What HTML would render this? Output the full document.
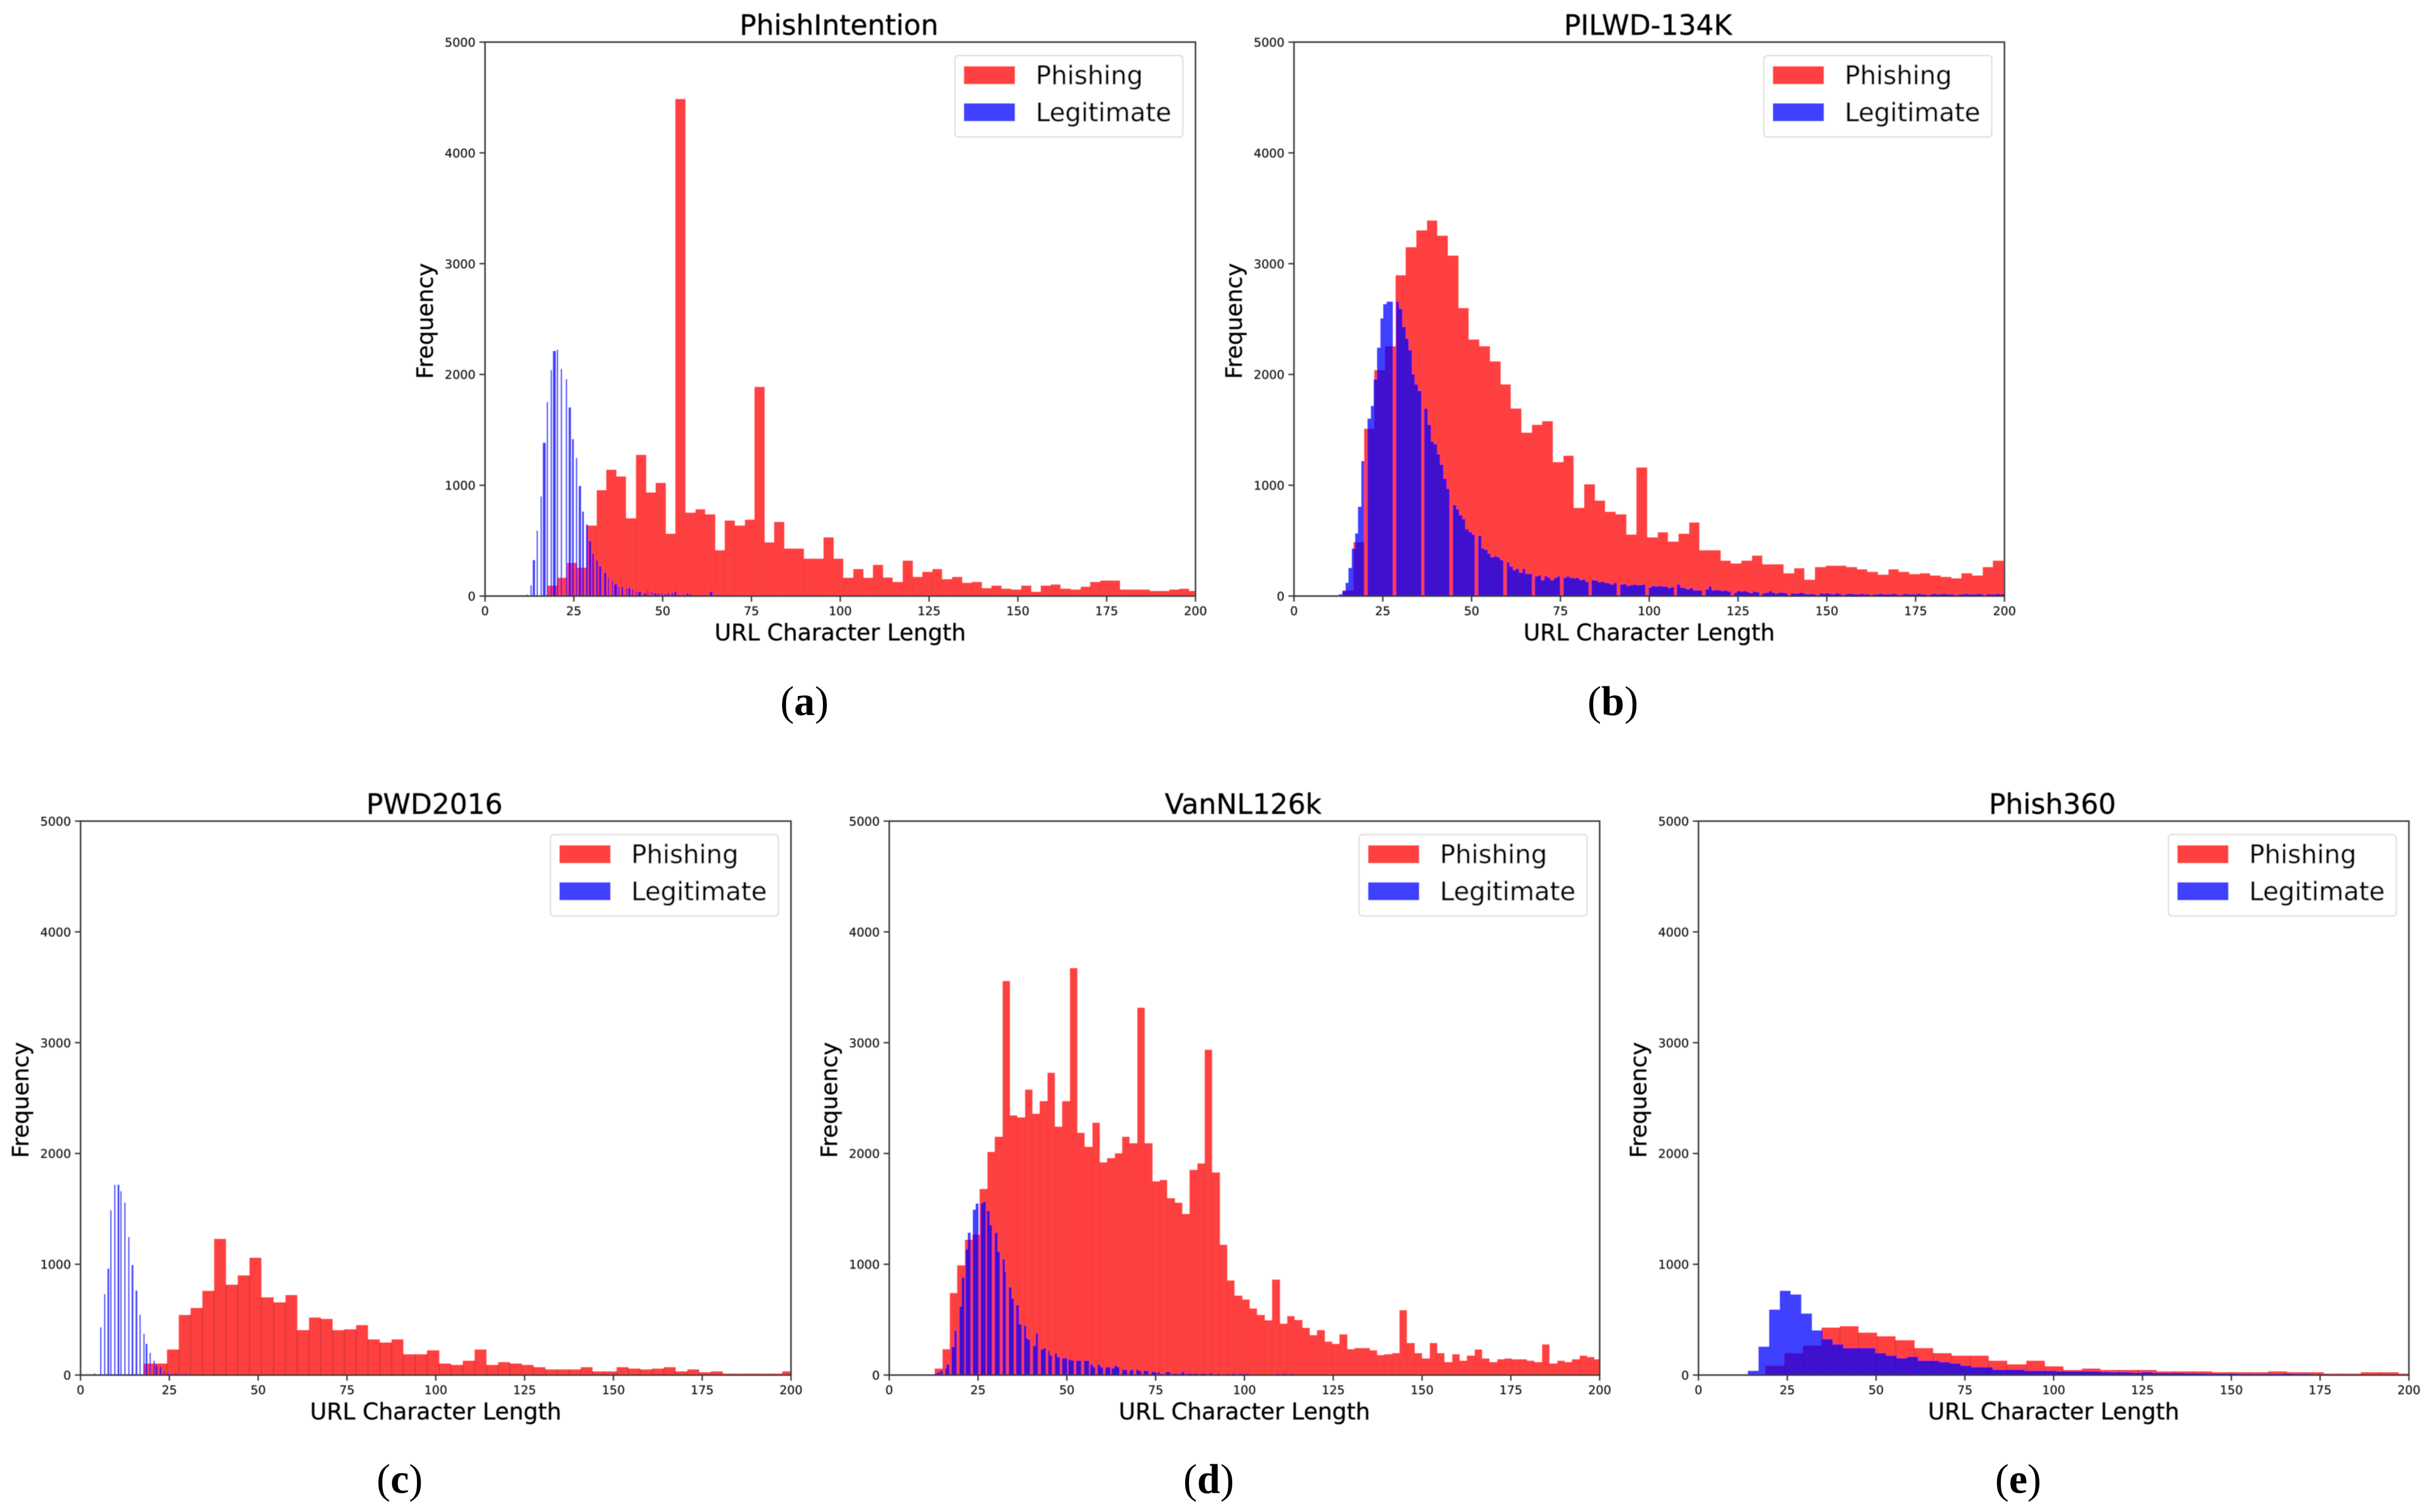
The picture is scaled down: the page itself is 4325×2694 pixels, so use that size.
<!DOCTYPE html>
<html lang="en">
<head>
<meta charset="utf-8">
<title>URL character length histograms</title>
<style>
html,body{margin:0;padding:0;background:#fff}
svg{display:block}
text{font-family:"DejaVu Sans","Liberation Sans",sans-serif;fill:#000}
.title{font-size:49.5px;text-anchor:middle;stroke:#000;stroke-width:.4px}
.xlabel{font-size:40.7px;text-anchor:middle;stroke:#000;stroke-width:.4px}
.ylabel{font-size:40px;text-anchor:middle;stroke:#000;stroke-width:.4px}
.legend-text{font-size:45.3px;stroke:#000;stroke-width:.4px}
.tick-label{font-size:21.5px;fill:#111;stroke:#111;stroke-width:.25px}
.caption{font-family:"Liberation Serif",serif;font-size:74px;text-anchor:middle}
.caption tspan{font-weight:bold}
</style>
</head>
<body>
<svg id="figure" xmlns="http://www.w3.org/2000/svg" width="4325" height="2694" viewBox="0 0 4325 2694">
<defs>
<clipPath id="plot-clip"><rect x="0" y="0" width="1265.5" height="987"></rect></clipPath>
<filter id="soft" x="-5%" y="-5%" width="110%" height="110%"><feGaussianBlur stdDeviation="0.8"></feGaussianBlur></filter>
</defs>
<rect x="0" y="0" width="4325" height="2694" fill="#fff"></rect>

<g id="panel-a" transform="translate(864,75)" filter="url(#soft)">
<g class="marks" clip-path="url(#plot-clip)"></g>
<g class="axes"></g>
<text class="title" x="630.5" y="-13">PhishIntention</text>
<text class="xlabel" x="632.7" y="1066">URL Character Length</text>
<text class="ylabel" transform="translate(-93,497) rotate(-90)">Frequency</text>
<g>
<rect x="837" y="24" width="406" height="145" rx="6" fill="#fff" stroke="#d8d8d8" stroke-width="2"></rect>
<rect x="853" y="43" width="91" height="32" fill="rgb(255,64,64)"></rect>
<text class="legend-text" x="981" y="75">Phishing</text>
<rect x="853" y="109" width="91" height="32" fill="rgb(64,64,255)"></rect>
<text class="legend-text" x="981" y="141">Legitimate</text>
</g>
</g>

<g id="panel-b" transform="translate(2305,75)" filter="url(#soft)">
<g class="marks" clip-path="url(#plot-clip)"></g>
<g class="axes"></g>
<text class="title" x="630.5" y="-13">PILWD-134K</text>
<text class="xlabel" x="632.7" y="1066">URL Character Length</text>
<text class="ylabel" transform="translate(-93,497) rotate(-90)">Frequency</text>
<g>
<rect x="837" y="24" width="406" height="145" rx="6" fill="#fff" stroke="#d8d8d8" stroke-width="2"></rect>
<rect x="853" y="43" width="91" height="32" fill="rgb(255,64,64)"></rect>
<text class="legend-text" x="981" y="75">Phishing</text>
<rect x="853" y="109" width="91" height="32" fill="rgb(64,64,255)"></rect>
<text class="legend-text" x="981" y="141">Legitimate</text>
</g>
</g>

<g id="panel-c" transform="translate(143.5,1463)" filter="url(#soft)">
<g class="marks" clip-path="url(#plot-clip)"></g>
<g class="axes"></g>
<text class="title" x="630.5" y="-13">PWD2016</text>
<text class="xlabel" x="632.7" y="1066">URL Character Length</text>
<text class="ylabel" transform="translate(-93,497) rotate(-90)">Frequency</text>
<g>
<rect x="837" y="24" width="406" height="145" rx="6" fill="#fff" stroke="#d8d8d8" stroke-width="2"></rect>
<rect x="853" y="43" width="91" height="32" fill="rgb(255,64,64)"></rect>
<text class="legend-text" x="981" y="75">Phishing</text>
<rect x="853" y="109" width="91" height="32" fill="rgb(64,64,255)"></rect>
<text class="legend-text" x="981" y="141">Legitimate</text>
</g>
</g>

<g id="panel-d" transform="translate(1584,1463)" filter="url(#soft)">
<g class="marks" clip-path="url(#plot-clip)"></g>
<g class="axes"></g>
<text class="title" x="630.5" y="-13">VanNL126k</text>
<text class="xlabel" x="632.7" y="1066">URL Character Length</text>
<text class="ylabel" transform="translate(-93,497) rotate(-90)">Frequency</text>
<g>
<rect x="837" y="24" width="406" height="145" rx="6" fill="#fff" stroke="#d8d8d8" stroke-width="2"></rect>
<rect x="853" y="43" width="91" height="32" fill="rgb(255,64,64)"></rect>
<text class="legend-text" x="981" y="75">Phishing</text>
<rect x="853" y="109" width="91" height="32" fill="rgb(64,64,255)"></rect>
<text class="legend-text" x="981" y="141">Legitimate</text>
</g>
</g>

<g id="panel-e" transform="translate(3025.5,1463)" filter="url(#soft)">
<g class="marks" clip-path="url(#plot-clip)"></g>
<g class="axes"></g>
<text class="title" x="630.5" y="-13">Phish360</text>
<text class="xlabel" x="632.7" y="1066">URL Character Length</text>
<text class="ylabel" transform="translate(-93,497) rotate(-90)">Frequency</text>
<g>
<rect x="837" y="24" width="406" height="145" rx="6" fill="#fff" stroke="#d8d8d8" stroke-width="2"></rect>
<rect x="853" y="43" width="91" height="32" fill="rgb(255,64,64)"></rect>
<text class="legend-text" x="981" y="75">Phishing</text>
<rect x="853" y="109" width="91" height="32" fill="rgb(64,64,255)"></rect>
<text class="legend-text" x="981" y="141">Legitimate</text>
</g>
</g>

<text class="caption" x="1433" y="1274">(<tspan>a</tspan>)</text>
<text class="caption" x="2873" y="1274">(<tspan>b</tspan>)</text>
<text class="caption" x="712" y="2660">(<tspan>c</tspan>)</text>
<text class="caption" x="2153" y="2660">(<tspan>d</tspan>)</text>
<text class="caption" x="3595" y="2660">(<tspan>e</tspan>)</text>
</svg>

<script>
const xTickValues = [0,25,50,75,100,125,150,175,200];
const yTickValues = [0,1000,2000,3000,4000,5000];
const xDomainMax = 200;
const yDomainMax = 5000;

/* PhishIntention */
const aPhishingStart = 17.5;
const aPhishingBinWidth = 2.78;
const aPhishingCounts = [93,164,299,256,635,955,1140,1080,702,1274,934,1022,563,4487,753,782,736,412,681,635,690,1888,484,669,429,429,336,336,530,336,164,244,164,282,168,126,320,172,219,244,151,172,118,126,71,93,67,59,93,38,93,105,67,59,84,126,139,139,59,59,59,46,46,59,67,46];
const aLegitLengths = [11.70,12.76,13.44,14.50,15.60,16.29,17.40,18.45,19.19,20.24,21.30,22.72,23.51,24.57,25.62,26.36,27.41,28.52,29.20,30.26,31.37,32.05,33.47,34.58,35.64,36.37,37.43,38.48,39.64,40.27,41.38,42.49,43.17,44.65,45.65,46.76,47.50,48.55,49.60,50.34,51.40,52.50,53.19,54.30,55.72,56.77,57.51,61.47,63.26,65.42];
const aLegitWidths = [.37,.37,.7,.37,.37,.7,.37,.37,.7,.37,.37,.37,.7,.37,.37,.7,.37,.37,.7,.37,.37,.7,.7,.37,.37,.7,.37,.37,.37,.7,.37,.37,.7,.7,.37,.37,.7,.37,.37,.7,.37,.37,.7,.37,.37,.37,.7,.37,.7,.37];
const aLegitCounts = [12,95,324,590,899,1383,1751,2039,2212,2223,2050,1957,1703,1417,1245,992,763,647,497,383,324,268,210,165,140,107,83,83,72,72,60,37,37,25,49,37,25,25,25,14,25,25,37,14,14,25,14,14,37,14];

/* PILWD-134K */
const bPhishingStart = 13.8;
const bPhishingBinWidth = 2.952;
const bPhishingCounts = [50,487,1510,2038,2255,2895,3149,3300,3390,3253,3072,2599,2314,2255,2117,1911,1691,1474,1544,1578,1209,1266,795,1009,862,761,736,555,1160,530,576,492,563,664,412,412,320,294,320,366,286,286,206,252,147,261,273,273,261,240,219,193,240,219,198,206,185,172,160,206,185,261,320];
const bLegitStart = 12.72;
const bLegitBinWidth = 0.889;
const bLegitCounts = [14,45,118,254,428,566,806,1218,0,1601,1714,1956,2241,2506,2635,2658,2658,0,2658,2590,2429,2323,2219,2001,1911,1852,0,1691,1544,1392,1370,1279,1186,1060,967,0,820,783,729,693,602,577,555,0,543,430,417,383,349,360,349,324,0,303,267,233,245,210,245,199,199,0,177,188,143,177,165,143,165,177,0,165,177,165,160,165,145,150,130,0,145,140,125,130,120,115,105,120,0,105,110,90,100,105,100,100,105,0,75,90,85,90,85,85,70,80,0,105,75,70,60,70,50,50,50,0,60,85,50,55,50,45,50,40,0,30,45,40,45,35,25,40,35,0,25,30,45,30,20,30,30,25,0,25,20,25,30,20,15,20,15,0,25,20,25,20,15,25,20,0,15,20,20,15,15,20,15,15,0,15,15,20,15,15,15,20,15,0,15,20,15,15,15,20,15,15,0,15,20,15,15,20,15,15,15,0,15,15,20,15,15,15,20,15,0,20,15,15,20,15,20,20];

/* PWD2016 */
const cPhishingStart = 17.66;
const cPhishingBinWidth = 3.33;
const cPhishingCounts = [105,105,230,543,606,761,1229,815,899,1058,702,656,723,405,518,506,405,414,451,322,293,322,188,188,222,105,92,130,230,92,117,105,92,71,50,50,50,71,33,33,71,59,50,59,71,33,50,25,33,13,13,13,13,13,33];
const cLegitLengths = [3.72,5.51,6.57,7.62,8.36,9.42,10.47,11.21,12.31,13.37,14.42,15.53,16.58,17.64,18.38,19.43,20.54,21.22,22.33,23.38,24.44,25.55,26.6,28.4,29.45];
const cLegitWidths = [.37,.37,.37,.37,.37,.37,.37,.37,.37,.37,.37,.37,.37,.37,.37,.37,.37,.37,.37,.37,.37,.37,.37,.37,.37];
const cLegitCounts = [14,430,729,959,1487,1717,1717,1660,1557,1245,993,763,545,372,281,200,130,85,73,39,25,14,14,14,14];

/* VanNL126k */
const dPhishingStart = 12.86;
const dPhishingBinWidth = 2.11;
const dPhishingCounts = [59,233,739,990,1220,1266,1680,2013,2150,3556,2344,2324,2577,2357,2471,2729,2241,2471,3673,2187,2060,2277,1920,1957,2001,2150,2091,3316,2091,1747,1760,1597,1556,1453,1851,1910,2936,1830,1176,853,716,682,600,543,493,861,464,531,497,426,360,405,301,280,368,234,242,242,222,180,188,197,585,288,197,150,288,197,117,188,130,176,230,150,117,142,150,142,142,130,117,276,105,130,117,142,176,163,142];
const dLegitLengths = [12.86,13.58,14.31,15.76,16.12,17.57,18.3,19.69,20.42,21.5,22.17,23.62,24.35,25.74,26.47,27.56,28.28,29.73,30.4,31.85,32.58,33.67,34.39,35.78,36.51,37.96,38.63,38.99,40.5,41.17,42.62,43.34,44.8,45.16,46.55,47.28,48.67,49.4,50.48,51.21,52.66,53.39,54.78,55.5,56.59,57.32,58.71,59.44,60.89,61.61,62.64,63.37,64.1,65.55,66.27,67.72,68.03,69.48,70.2,71.6,72.32,73.77,74.5,75.53,76.26,77.7,78.43,79.82,80.55,81.64,82.36,83.82,84.54,85.5,86.24,87.69,88.41,89.86,90.59,92.4,95.13,96.64,98.45,99.18,100.57,103,109,111,113];
const dLegitWidths = [.72,.72,.72,.36,.72,.72,.72,.72,.72,.67,.72,.72,.72,.72,.72,.72,.72,.72,.72,.72,.36,.72,.72,.72,.72,.67,.36,.72,.67,.72,.72,.72,.36,.72,.72,.72,.72,.72,.72,.72,.72,.72,.72,.72,.72,.72,.72,.72,.72,.72,.72,.72,.72,.72,.72,.31,.72,.72,.72,.72,.72,.72,.72,.72,.72,.72,.72,.72,.72,.72,.72,.72,.72,.72,.72,.72,.72,.72,.36,.72,.72,.72,.72,.72,.72,.72,.72,.72,.72];
const dLegitCounts = [13,28,41,62,96,254,401,618,881,1134,1284,1491,1548,1551,1562,1482,1352,1285,1112,1045,931,792,688,631,458,445,331,318,264,377,230,243,220,178,196,163,152,152,140,132,129,129,129,129,93,70,93,70,70,70,62,83,70,49,49,39,49,49,39,39,39,28,28,28,13,28,28,13,13,13,28,13,13,13,13,13,13,13,20,13,13,13,13,13,13,8,13,13,13];

/* Phish360 */
const ePhishingStart = 18.87;
const ePhishingBinWidth = 5.24;
const ePhishingCounts = [83,198,267,428,440,382,349,313,244,198,174,174,129,95,130,79,46,59,46,46,46,33,33,33,25,25,25,33,25,25,13,13,25,25,13];
const eLegitStart = 13.85;
const eLegitBinWidth = 3.0;
const eLegitCounts = [37,255,590,761,727,555,404,325,277,244,244,244,198,176,152,164,129,129,117,105,83,71,71,49,49,49,37,37,37,33,33,33,33,29,25,25,20,25,17,17,17,14,14,13,13,13,10,10,10,10,12,10,10,8,8,8,6,6,6,6,6,6];

const PLOT_W = 1265.5;
const PLOT_H = 987;
const SVG_NS = 'http://www.w3.org/2000/svg';
const RED = 'rgb(255,0,0)';
const BLUE = 'rgb(0,0,255)';

function xScale(v){ return v / xDomainMax * PLOT_W; }
function yScale(v){ return PLOT_H - v / yDomainMax * PLOT_H; }

function uniformLefts(start, binWidth, counts){
  return counts.map(function(_, i){ return start + i * binWidth; });
}
function uniformWidths(binWidth, counts){
  return counts.map(function(){ return binWidth; });
}

function drawBars(group, lefts, widths, counts, fill, barName){
  counts.forEach(function(c, i){
    if(c <= 0) return;
    const el = document.createElementNS(SVG_NS, 'rect');
    
    
    const x0 = Math.round(xScale(lefts[i]));
    const x1 = Math.max(x0 + 1, Math.round(xScale(lefts[i] + widths[i])));
    el.setAttribute('x', x0);
    el.setAttribute('y', yScale(c));
    el.setAttribute('width', x1 - x0);
    el.setAttribute('height', PLOT_H - yScale(c));
    el.setAttribute('fill', fill);
    el.setAttribute('fill-opacity', '0.75');
    el.setAttribute('shape-rendering', 'crispEdges');
    group.appendChild(el);
  });
}

function drawSeams(group, lefts, counts, seamWidth, seamOpacity){
  counts.forEach(function(c, i){
    if(i === 0 || c <= 0 || counts[i-1] <= 0) return;
    const h = Math.min(c, counts[i-1]);
    const el = document.createElementNS(SVG_NS, 'rect');
    
    
    el.setAttribute('x', Math.round(xScale(lefts[i])) - seamWidth / 2);
    el.setAttribute('y', yScale(h));
    el.setAttribute('width', seamWidth);
    el.setAttribute('height', PLOT_H - yScale(h));
    el.setAttribute('fill', '#000');
    el.setAttribute('fill-opacity', seamOpacity);
    group.appendChild(el);
  });
}

function drawAxes(group){
  const frame = document.createElementNS(SVG_NS, 'rect');
  
  
  frame.setAttribute('x', 0);
  frame.setAttribute('y', 0);
  frame.setAttribute('width', PLOT_W);
  frame.setAttribute('height', PLOT_H);
  frame.setAttribute('fill', 'none');
  frame.setAttribute('stroke', '#333');
  frame.setAttribute('stroke-width', '2.6');
  group.appendChild(frame);

  xTickValues.forEach(function(v){
    const tick = document.createElementNS(SVG_NS, 'line');
    
    
    tick.setAttribute('x1', xScale(v));
    tick.setAttribute('x2', xScale(v));
    tick.setAttribute('y1', PLOT_H);
    tick.setAttribute('y2', PLOT_H + 10);
    tick.setAttribute('stroke', '#333');
    tick.setAttribute('stroke-width', '2.4');
    group.appendChild(tick);
    const label = document.createElementNS(SVG_NS, 'text');
    
    
    label.setAttribute('class', 'tick-label');
    label.setAttribute('x', xScale(v));
    label.setAttribute('y', PLOT_H + 34);
    label.setAttribute('text-anchor', 'middle');
    label.textContent = String(v);
    group.appendChild(label);
  });

  yTickValues.forEach(function(v){
    const tick = document.createElementNS(SVG_NS, 'line');
    
    
    tick.setAttribute('x1', -10);
    tick.setAttribute('x2', 0);
    tick.setAttribute('y1', yScale(v));
    tick.setAttribute('y2', yScale(v));
    tick.setAttribute('stroke', '#333');
    tick.setAttribute('stroke-width', '2.4');
    group.appendChild(tick);
    const label = document.createElementNS(SVG_NS, 'text');
    
    
    label.setAttribute('class', 'tick-label');
    label.setAttribute('x', -17);
    label.setAttribute('y', yScale(v) + 8);
    label.setAttribute('text-anchor', 'end');
    label.textContent = String(v);
    group.appendChild(label);
  });
}

function renderPanel(id, phLefts, phWidths, phCounts, lgLefts, lgWidths, lgCounts, seamWidth, seamOpacity){
  const panel = document.getElementById(id);
  const marks = panel.querySelector('.marks');
  const axes = panel.querySelector('.axes');
  drawBars(marks, phLefts, phWidths, phCounts, RED, 'bar-phishing');
  drawSeams(marks, phLefts, phCounts, seamWidth, seamOpacity);
  drawBars(marks, lgLefts, lgWidths, lgCounts, BLUE, 'bar-legitimate');
  drawAxes(axes);
}

renderPanel('panel-a',
  uniformLefts(aPhishingStart, aPhishingBinWidth, aPhishingCounts), uniformWidths(aPhishingBinWidth, aPhishingCounts), aPhishingCounts,
  aLegitLengths, aLegitWidths, aLegitCounts, 2, 0.04);
renderPanel('panel-b',
  uniformLefts(bPhishingStart, bPhishingBinWidth, bPhishingCounts), uniformWidths(bPhishingBinWidth, bPhishingCounts), bPhishingCounts,
  uniformLefts(bLegitStart, bLegitBinWidth, bLegitCounts), uniformWidths(bLegitBinWidth, bLegitCounts), bLegitCounts, 2, 0.02);
renderPanel('panel-c',
  uniformLefts(cPhishingStart, cPhishingBinWidth, cPhishingCounts), uniformWidths(cPhishingBinWidth, cPhishingCounts), cPhishingCounts,
  cLegitLengths, cLegitWidths, cLegitCounts, 3, 0.12);
renderPanel('panel-d',
  uniformLefts(dPhishingStart, dPhishingBinWidth, dPhishingCounts), uniformWidths(dPhishingBinWidth, dPhishingCounts), dPhishingCounts,
  dLegitLengths, dLegitWidths, dLegitCounts, 2, 0.04);
renderPanel('panel-e',
  uniformLefts(ePhishingStart, ePhishingBinWidth, ePhishingCounts), uniformWidths(ePhishingBinWidth, ePhishingCounts), ePhishingCounts,
  uniformLefts(eLegitStart, eLegitBinWidth, eLegitCounts), uniformWidths(eLegitBinWidth, eLegitCounts), eLegitCounts, 3, 0.1);
</script>
</body>
</html>
